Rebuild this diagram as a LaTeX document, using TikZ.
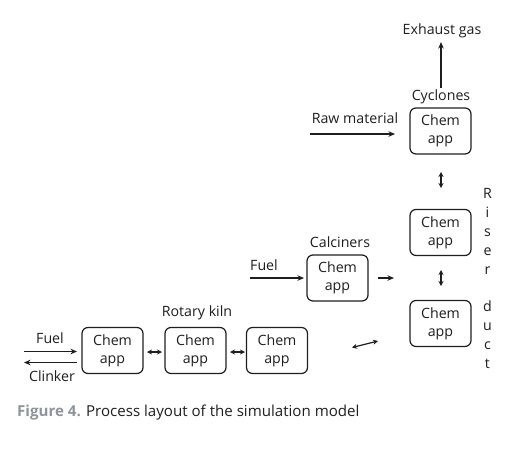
\documentclass[tikz,border=0pt]{standalone}
\usepackage{fontspec}
\setmainfont{Open Sans}
\usetikzlibrary{arrows.meta}
\definecolor{ink}{HTML}{1E1E1E}
\definecolor{capgray}{HTML}{8C949C}
\tikzset{
  chem/.style={draw=ink, line width=1.2pt, rounded corners=6pt, minimum width=61pt, minimum height=46pt, inner sep=0pt, align=center, text=ink, font=\fontsize{14.2}{18.3}\selectfont},
  lbl/.style={text=ink, inner sep=0pt, font=\fontsize{14.2}{18.3}\selectfont},
  flow/.style={draw=ink, line width=1.2pt, -{Stealth[length=6.5pt,width=5.5pt]}},
  both/.style={draw=ink, line width=1.2pt, {Stealth[length=5pt,width=5pt]}-{Stealth[length=5pt,width=5pt]}}
}
\begin{document}
\begin{tikzpicture}[x=1pt,y=-1pt]
\useasboundingbox (0,0) rectangle (517,448);
% boxes
\node[chem] (cyc) at (440.5,131) {Chem\\app};
\node[chem] (r1) at (440.5,232.5) {Chem\\app};
\node[chem] (r2) at (440.5,323.5) {Chem\\app};
\node[chem] (cal) at (337.5,278) {Chem\\app};
\node[chem] (k1) at (112.5,350.5) {Chem\\app};
\node[chem] (k2) at (195.5,350.5) {Chem\\app};
\node[chem] (k3) at (277,350.5) {Chem\\app};
% labels
\node[lbl] (exh) at (442,31) {Exhaust gas};
\node[lbl] (cyclbl) at (441,97) {Cyclones};
\node[lbl] (raw) at (355,118) {Raw material};
\node[lbl] (callbl) at (340,242) {Calciners};
\node[lbl] (fuel2) at (264,265) {Fuel};
\node[lbl] (kiln) at (197,313) {Rotary kiln};
\node[lbl] (fuel1) at (50,338) {Fuel};
\node[lbl] (clink) at (52,376) {Clinker};
\node[lbl, align=center, font=\fontsize{14.2}{18.8}\selectfont] (riser) at (487.5,278.5) {R\\i\\s\\e\\r\\[18.8pt]d\\u\\c\\t};
% free ends
\coordinate (exhA) at (441,88);
\coordinate (exhB) at (441,42);
\coordinate (rawA) at (310,134);
\coordinate (rawB) at (395,134);
\coordinate (f2A) at (250,278);
\coordinate (f2B) at (304,278);
\coordinate (calA) at (378,278);
\coordinate (calB) at (394,278);
\coordinate (f1A) at (24,351.5);
\coordinate (f1B) at (77,351.5);
\coordinate (clA) at (77,362.5);
\coordinate (clB) at (24,362.5);
\coordinate (d1A) at (441,172);
\coordinate (d1B) at (441,188);
\coordinate (d2A) at (441,270);
\coordinate (d2B) at (441,286);
\coordinate (d3A) at (352,347.5);
\coordinate (d3B) at (378,341);
\coordinate (d4A) at (147,352);
\coordinate (d4B) at (162,352);
\coordinate (d5A) at (230,352);
\coordinate (d5B) at (245,352);
% connectors
\draw[flow] (exhA) -- (exhB);
\draw[flow] (rawA) -- (rawB);
\draw[flow] (f2A) -- (f2B);
\draw[flow] (calA) -- (calB);
\draw[flow] (f1A) -- (f1B);
\draw[flow] (clA) -- (clB);
\draw[both] (d1A) -- (d1B);
\draw[both] (d2A) -- (d2B);
\draw[both] (d3A) -- (d3B);
\draw[both] (d4A) -- (d4B);
\draw[both] (d5A) -- (d5B);
% caption
\node[anchor=west, inner sep=0pt, font=\fontsize{15.1}{16}\selectfont, text=ink] (cap) at (17,413) {\textcolor{capgray}{\textbf{Figure 4.}} Process layout of the simulation model};
\end{tikzpicture}
\end{document}
